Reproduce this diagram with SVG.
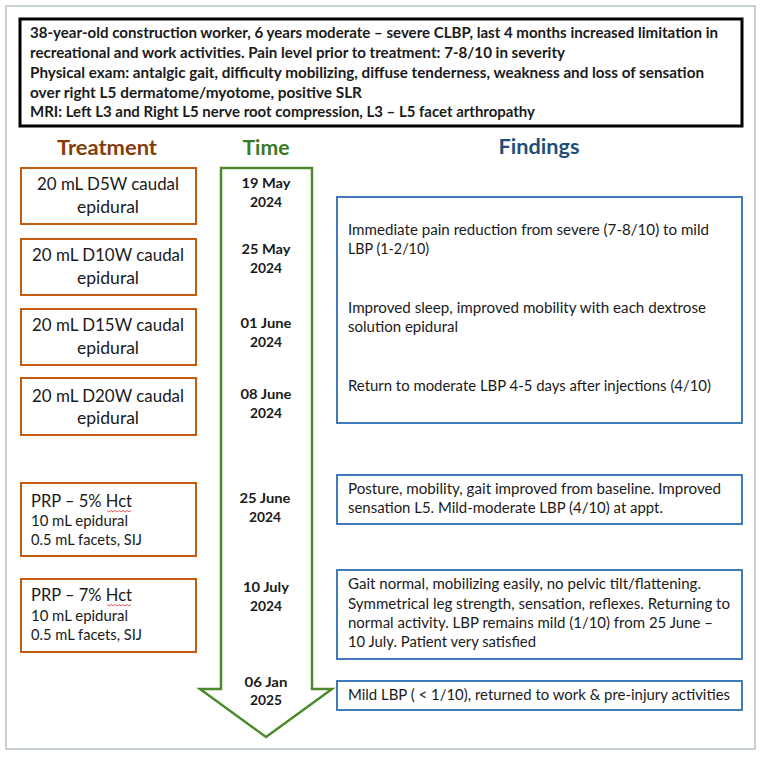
<svg xmlns="http://www.w3.org/2000/svg" width="762" height="757" viewBox="0 0 762 757">
<style>
text{font-family:Lato,"Open Sans","Liberation Sans",sans-serif;fill:#1a1a1a}
.hdr{font-size:15px;font-weight:bold}
.h{font-size:20px;font-weight:bold;text-anchor:middle}
.tr{fill:#fff;stroke:#C55A11;stroke-width:2}
.tt{font-size:17.5px;text-anchor:middle}
.pt{font-size:18px}
.ps{font-size:15px}
.dt{font-size:14px;font-weight:bold;text-anchor:middle}
.fb{fill:#fff;stroke:#2E6DB4;stroke-width:1.8}
.ft{font-size:14.5px}
</style>
<rect x="0" y="0" width="762" height="757" fill="#fff"/>
<rect x="6" y="6" width="749" height="743" fill="#fff" stroke="#B7C4C4" stroke-width="1.5"/>

<g id="summary">
<rect x="20" y="19" width="722" height="107" fill="#fff" stroke="#000" stroke-width="3"/>
<text class="hdr" x="30" y="38" textLength="688" lengthAdjust="spacingAndGlyphs">38-year-old construction worker, 6 years moderate – severe CLBP, last 4 months increased limitation in</text>
<text class="hdr" x="30" y="58" textLength="535" lengthAdjust="spacingAndGlyphs">recreational and work activities. Pain level prior to treatment: 7-8/10 in severity</text>
<text class="hdr" x="30" y="78" textLength="674" lengthAdjust="spacingAndGlyphs">Physical exam: antalgic gait, difficulty mobilizing, diffuse tenderness, weakness and loss of sensation</text>
<text class="hdr" x="30" y="98" textLength="332" lengthAdjust="spacingAndGlyphs">over right L5 dermatome/myotome, positive SLR</text>
<text class="hdr" x="30" y="117" textLength="505" lengthAdjust="spacingAndGlyphs">MRI: Left L3 and Right L5 nerve root compression, L3 – L5 facet arthropathy</text>
</g>

<g id="headings">
<text class="h" x="107" y="155" style="fill:#843C0C" textLength="100" lengthAdjust="spacingAndGlyphs">Treatment</text>
<text class="h" x="266" y="155" style="fill:#3B7A23" textLength="47" lengthAdjust="spacingAndGlyphs">Time</text>
<text class="h" x="539" y="154" style="fill:#1F4E79" textLength="81" lengthAdjust="spacingAndGlyphs">Findings</text>
</g>

<g id="timeline">
<polygon points="221,168 312,168 312,689 332,689 266,737 200,689 221,689" fill="#fff" stroke="#4E8A2C" stroke-width="2.5" stroke-linejoin="miter"/>
<text class="dt" x="266" y="188" textLength="49" lengthAdjust="spacingAndGlyphs">19 May</text>
<text class="dt" x="266" y="207" textLength="32" lengthAdjust="spacingAndGlyphs">2024</text>
<text class="dt" x="266" y="254" textLength="49" lengthAdjust="spacingAndGlyphs">25 May</text>
<text class="dt" x="266" y="273" textLength="32" lengthAdjust="spacingAndGlyphs">2024</text>
<text class="dt" x="266" y="328" textLength="51" lengthAdjust="spacingAndGlyphs">01 June</text>
<text class="dt" x="266" y="347" textLength="32" lengthAdjust="spacingAndGlyphs">2024</text>
<text class="dt" x="266" y="399" textLength="51" lengthAdjust="spacingAndGlyphs">08 June</text>
<text class="dt" x="266" y="418" textLength="32" lengthAdjust="spacingAndGlyphs">2024</text>
<text class="dt" x="265" y="503" textLength="51" lengthAdjust="spacingAndGlyphs">25 June</text>
<text class="dt" x="265" y="522" textLength="32" lengthAdjust="spacingAndGlyphs">2024</text>
<text class="dt" x="266" y="592" textLength="46" lengthAdjust="spacingAndGlyphs">10 July</text>
<text class="dt" x="266" y="611" textLength="32" lengthAdjust="spacingAndGlyphs">2024</text>
<text class="dt" x="266" y="687" textLength="43" lengthAdjust="spacingAndGlyphs">06 Jan</text>
<text class="dt" x="266" y="705" textLength="32" lengthAdjust="spacingAndGlyphs">2025</text>
</g>

<g id="t1">
<rect class="tr" x="21" y="168" width="175" height="56"/>
<text class="tt" x="108" y="190" textLength="142" lengthAdjust="spacingAndGlyphs">20 mL D5W caudal</text>
<text class="tt" x="108" y="213" textLength="62" lengthAdjust="spacingAndGlyphs">epidural</text>
</g>
<g id="t2">
<rect class="tr" x="21" y="239" width="175" height="56"/>
<text class="tt" x="108" y="261" textLength="152" lengthAdjust="spacingAndGlyphs">20 mL D10W caudal</text>
<text class="tt" x="108" y="284" textLength="62" lengthAdjust="spacingAndGlyphs">epidural</text>
</g>
<g id="t3">
<rect class="tr" x="21" y="309" width="175" height="56"/>
<text class="tt" x="108" y="331" textLength="152" lengthAdjust="spacingAndGlyphs">20 mL D15W caudal</text>
<text class="tt" x="108" y="354" textLength="62" lengthAdjust="spacingAndGlyphs">epidural</text>
</g>
<g id="t4">
<rect class="tr" x="21" y="378" width="175" height="57"/>
<text class="tt" x="108" y="402" textLength="152" lengthAdjust="spacingAndGlyphs">20 mL D20W caudal</text>
<text class="tt" x="108" y="424" textLength="62" lengthAdjust="spacingAndGlyphs">epidural</text>
</g>
<g id="t5">
<rect class="tr" x="21" y="483" width="175" height="73"/>
<text class="pt" x="31" y="507" textLength="101" lengthAdjust="spacingAndGlyphs">PRP – 5% Hct</text>
<path d="M107,510.5 l2,1.5 l2,-1.5 l2,1.5 l2,-1.5 l2,1.5 l2,-1.5 l2,1.5 l2,-1.5 l2,1.5 l2,-1.5 l2,1.5 l2,-1.5" fill="none" stroke="#E03030" stroke-width="0.8"/>
<text class="ps" x="31" y="526" textLength="97" lengthAdjust="spacingAndGlyphs">10 mL epidural</text>
<text class="ps" x="31" y="545" textLength="111" lengthAdjust="spacingAndGlyphs">0.5 mL facets, SIJ</text>
</g>
<g id="t6">
<rect class="tr" x="21" y="579" width="175" height="73"/>
<text class="pt" x="31" y="601" textLength="101" lengthAdjust="spacingAndGlyphs">PRP – 7% Hct</text>
<path d="M107,604.5 l2,1.5 l2,-1.5 l2,1.5 l2,-1.5 l2,1.5 l2,-1.5 l2,1.5 l2,-1.5 l2,1.5 l2,-1.5 l2,1.5 l2,-1.5" fill="none" stroke="#E03030" stroke-width="0.8"/>
<text class="ps" x="31" y="621" textLength="97" lengthAdjust="spacingAndGlyphs">10 mL epidural</text>
<text class="ps" x="31" y="640" textLength="111" lengthAdjust="spacingAndGlyphs">0.5 mL facets, SIJ</text>
</g>

<g id="f1">
<rect class="fb" x="337" y="197" width="405" height="226"/>
<text class="ft" x="348" y="235" textLength="361" lengthAdjust="spacingAndGlyphs">Immediate pain reduction from severe (7-8/10) to mild</text>
<text class="ft" x="348" y="254" textLength="81" lengthAdjust="spacingAndGlyphs">LBP (1-2/10)</text>
<text class="ft" x="348" y="313" textLength="358" lengthAdjust="spacingAndGlyphs">Improved sleep, improved mobility with each dextrose</text>
<text class="ft" x="348" y="332" textLength="110" lengthAdjust="spacingAndGlyphs">solution epidural</text>
<text class="ft" x="348" y="391" textLength="363" lengthAdjust="spacingAndGlyphs">Return to moderate LBP 4-5 days after injections (4/10)</text>
</g>
<g id="f2">
<rect class="fb" x="337" y="475" width="405" height="49"/>
<text class="ft" x="348" y="494" textLength="373" lengthAdjust="spacingAndGlyphs">Posture, mobility, gait improved from baseline. Improved</text>
<text class="ft" x="348" y="513" textLength="315" lengthAdjust="spacingAndGlyphs">sensation L5. Mild-moderate LBP (4/10) at appt.</text>
</g>
<g id="f3">
<rect class="fb" x="337" y="570" width="405" height="89"/>
<text class="ft" x="348" y="589" textLength="353" lengthAdjust="spacingAndGlyphs">Gait normal, mobilizing easily, no pelvic tilt/flattening.</text>
<text class="ft" x="348" y="609" textLength="382" lengthAdjust="spacingAndGlyphs">Symmetrical leg strength, sensation, reflexes. Returning to</text>
<text class="ft" x="348" y="628" textLength="365" lengthAdjust="spacingAndGlyphs">normal activity. LBP remains mild (1/10) from 25 June –</text>
<text class="ft" x="348" y="647" textLength="188" lengthAdjust="spacingAndGlyphs">10 July. Patient very satisfied</text>
</g>
<g id="f4">
<rect class="fb" x="337" y="681" width="405" height="29"/>
<text class="ft" x="348" y="700" textLength="382" lengthAdjust="spacingAndGlyphs">Mild LBP ( &lt; 1/10), returned to work &amp; pre-injury activities</text>
</g>
</svg>
